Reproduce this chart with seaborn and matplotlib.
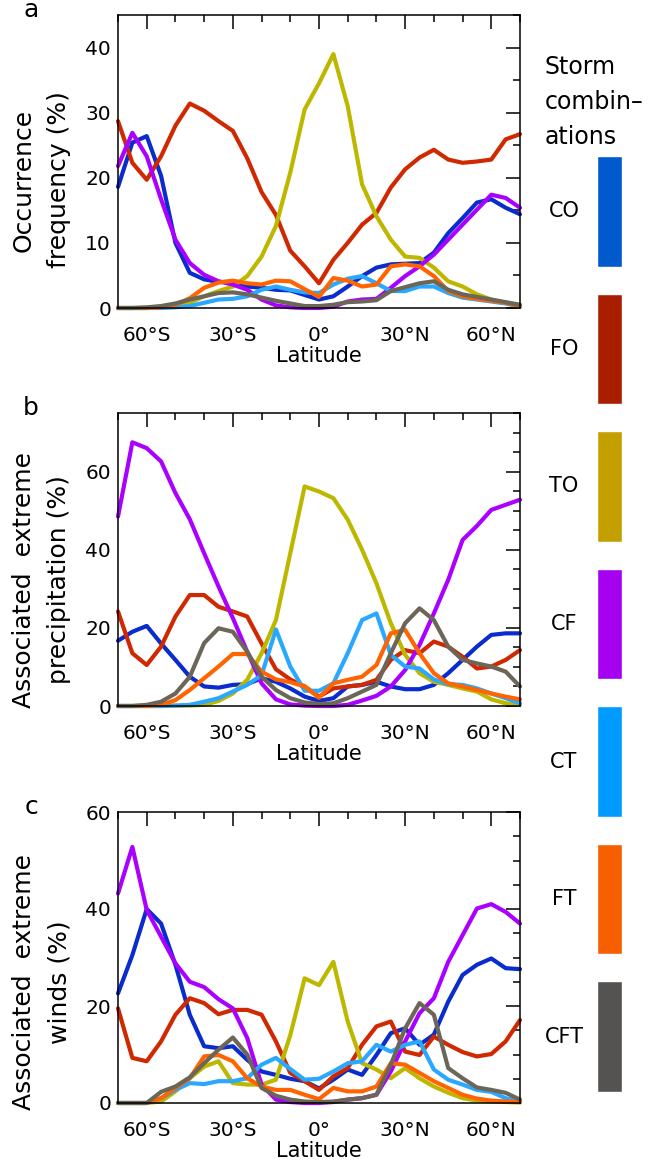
import numpy as np
import pandas as pd
import seaborn as sns
import matplotlib.pyplot as plt
import matplotlib.transforms as mtransforms
from matplotlib.ticker import MultipleLocator

# latitude grid (deg, negative = south)
lat = [-70, -65, -60, -55, -50, -45, -40, -35, -30, -25, -20, -15, -10, -5, 0,
       5, 10, 15, 20, 25, 30, 35, 40, 45, 50, 55, 60, 65, 70]

storms = ['CO', 'FO', 'TO', 'CF', 'CT', 'FT', 'CFT']
line_colors = ['#0a2ccc', '#d02800', '#bdb700', '#aa00ff', '#2aa8ff', '#ff6400', '#6c6658']
box_colors = ['#005acd', '#aa1e00', '#c3a000', '#a500f0', '#009bff', '#f55f00', '#555252']

# a: occurrence frequency (%)
freq_co = [18.6, 25.4, 26.4, 20.3, 10.0, 5.4, 4.4, 4.0, 4.0, 3.3, 3.1, 2.8, 2.7, 2.0, 1.3,
           1.8, 3.3, 4.9, 6.2, 6.7, 6.8, 6.9, 8.5, 11.5, 13.8, 16.2, 16.7, 15.4, 14.4]
freq_fo = [28.7, 22.3, 19.7, 23.3, 28.0, 31.4, 30.3, 28.7, 27.2, 23.0, 17.8, 14.3, 8.8, 6.4, 3.8,
           7.4, 10.0, 12.8, 14.6, 18.5, 21.3, 23.1, 24.3, 22.8, 22.3, 22.5, 22.8, 25.9, 26.7]
freq_to = [0.0, 0.0, 0.0, 0.1, 0.3, 0.8, 1.8, 2.6, 3.3, 4.9, 7.9, 12.6, 20.8, 30.5, 34.5,
           39.0, 31.0, 19.0, 14.1, 10.5, 7.9, 7.7, 6.2, 4.1, 3.3, 2.1, 1.3, 0.8, 0.3]
freq_cf = [21.8, 26.9, 23.3, 16.7, 10.5, 6.9, 5.1, 4.1, 3.6, 2.8, 1.3, 0.4, 0.1, 0.0, 0.0,
           0.2, 1.0, 1.3, 1.4, 3.1, 4.9, 6.4, 8.2, 10.5, 12.8, 15.1, 17.4, 16.9, 15.4]
freq_ct = [0.0, 0.0, 0.0, 0.0, 0.1, 0.3, 0.8, 1.3, 1.4, 1.8, 2.8, 3.3, 2.8, 2.4, 2.3,
           3.6, 4.5, 4.9, 3.8, 2.6, 2.6, 3.3, 3.3, 2.3, 1.6, 1.3, 1.0, 0.7, 0.2]
freq_ft = [0.0, 0.0, 0.0, 0.1, 0.5, 1.5, 3.1, 3.9, 4.2, 3.8, 3.6, 4.2, 4.1, 2.9, 1.7,
           4.6, 4.2, 3.3, 3.6, 6.4, 6.7, 6.4, 4.9, 2.6, 1.8, 1.4, 1.1, 0.8, 0.3]
freq_cft = [0.0, 0.0, 0.1, 0.3, 0.7, 1.3, 1.8, 2.3, 2.4, 2.1, 1.6, 1.1, 0.7, 0.3, 0.3,
            0.5, 0.9, 1.0, 1.2, 2.6, 3.2, 3.8, 4.1, 2.8, 2.1, 1.7, 1.3, 0.9, 0.5]

# b: associated extreme precipitation (%)
prec_co = [16.7, 19.0, 20.5, 16.0, 11.8, 7.5, 5.0, 4.7, 5.4, 5.6, 7.1, 6.2, 4.5, 2.4, 1.3,
           2.0, 5.0, 5.4, 6.2, 5.0, 4.3, 4.3, 5.4, 8.4, 11.8, 15.2, 18.2, 18.6, 18.6]
prec_fo = [24.2, 13.5, 10.5, 15.2, 22.9, 28.4, 28.4, 25.4, 24.2, 22.9, 16.0, 9.4, 6.8, 5.0, 2.4,
           4.5, 5.0, 5.4, 6.7, 11.8, 14.3, 13.5, 16.5, 15.2, 12.6, 9.6, 10.1, 11.8, 14.3]
prec_to = [0.0, 0.0, 0.0, 0.0, 0.1, 0.1, 0.3, 1.3, 3.2, 6.7, 13.5, 22.0, 39.1, 56.2, 54.9,
           53.2, 47.7, 40.0, 31.4, 21.2, 13.1, 8.4, 6.2, 5.4, 4.5, 3.7, 1.7, 0.7, 0.3]
prec_cf = [48.5, 67.5, 66.0, 62.6, 54.5, 47.8, 39.1, 30.6, 22.5, 13.9, 5.8, 1.7, 0.4, 0.1, 0.0,
           0.0, 0.3, 1.4, 2.6, 5.0, 9.2, 15.6, 23.7, 32.3, 42.5, 46.1, 50.2, 51.5, 52.8]
prec_ct = [0.0, 0.0, 0.0, 0.0, 0.1, 0.3, 1.1, 2.0, 3.7, 5.4, 7.9, 19.6, 10.1, 3.9, 3.9,
           5.8, 13.5, 22.0, 23.7, 13.1, 10.1, 9.6, 6.8, 5.6, 5.4, 4.5, 3.2, 2.0, 0.7]
prec_ft = [0.0, 0.0, 0.0, 0.3, 1.5, 4.1, 7.1, 10.1, 13.3, 13.3, 8.8, 6.8, 6.1, 5.0, 2.1,
           5.8, 6.7, 7.5, 10.5, 18.6, 19.5, 13.5, 8.4, 5.8, 5.0, 4.1, 3.2, 2.4, 1.7]
prec_cft = [0.0, 0.0, 0.3, 1.1, 3.2, 7.5, 16.1, 19.9, 19.0, 13.9, 7.5, 4.1, 2.0, 0.9, 0.5,
            0.7, 2.0, 3.7, 5.4, 13.5, 21.2, 25.0, 22.0, 15.2, 11.8, 10.9, 10.1, 8.8, 5.0]

# c: associated extreme winds (%)
wind_co = [22.6, 30.5, 40.0, 37.0, 28.5, 18.2, 11.7, 11.3, 11.7, 8.9, 6.5, 5.8, 5.0, 4.5, 3.0,
           4.8, 6.9, 5.8, 9.9, 14.4, 15.4, 12.0, 14.1, 20.9, 26.4, 28.5, 29.8, 27.8, 27.6]
wind_fo = [19.5, 9.3, 8.6, 12.7, 18.2, 21.6, 20.6, 18.3, 19.2, 19.2, 18.2, 12.7, 6.2, 4.5, 2.7,
           5.5, 7.2, 12.0, 15.8, 16.8, 10.6, 9.9, 13.7, 12.0, 10.5, 9.6, 10.1, 12.7, 17.1]
wind_to = [0.0, 0.0, 0.0, 0.3, 2.4, 5.1, 7.5, 8.6, 4.1, 3.8, 3.8, 4.8, 14.0, 25.7, 24.3,
           29.1, 16.8, 8.2, 6.9, 5.1, 7.2, 5.1, 3.4, 2.1, 1.0, 0.5, 0.3, 0.2, 0.1]
wind_cf = [43.2, 52.8, 39.8, 34.3, 28.8, 25.0, 23.9, 21.4, 19.5, 13.4, 3.8, 0.7, 0.2, 0.0, 0.0,
           0.2, 0.7, 1.0, 1.7, 6.5, 12.7, 18.5, 21.6, 29.1, 34.6, 40.1, 41.0, 39.4, 37.0]
wind_ct = [0.0, 0.0, 0.0, 1.0, 2.7, 4.1, 3.9, 4.5, 4.5, 5.1, 7.9, 9.3, 7.0, 4.8, 5.0,
           6.5, 8.2, 8.6, 12.0, 10.6, 12.0, 12.7, 6.9, 4.8, 3.8, 2.7, 2.3, 1.0, 0.2]
wind_ft = [0.0, 0.0, 0.0, 1.0, 3.1, 5.1, 9.6, 9.9, 8.6, 5.1, 3.4, 2.7, 2.7, 1.7, 0.8,
           3.1, 2.4, 2.4, 3.4, 8.2, 7.9, 6.2, 4.5, 3.1, 1.7, 0.9, 0.5, 0.3, 0.2]
wind_cft = [0.0, 0.0, 0.0, 2.3, 3.4, 5.3, 8.2, 11.0, 13.5, 10.0, 3.1, 1.5, 0.7, 0.3, 0.2,
            0.3, 0.7, 1.0, 1.7, 7.9, 15.4, 20.6, 18.2, 7.2, 5.1, 3.2, 2.7, 2.1, 0.7]

xtick_pos = [-60, -30, 0, 30, 60]
xtick_labels = ['60°S', '30°S', '0°', '30°N', '60°N']


def long_frame(series):
    rows = []
    for name, vals in zip(storms, series):
        for x, v in zip(lat, vals):
            rows.append((name, x, v))
    return pd.DataFrame(rows, columns=['storm', 'lat', 'value'])


def draw_panel(ax, series, ymax, ymajor):
    df = long_frame(series)
    sns.lineplot(data=df, x='lat', y='value', hue='storm', hue_order=storms,
                 palette=dict(zip(storms, line_colors)), lw=3.0, legend=False,
                 ax=ax, clip_on=False, solid_joinstyle='round', solid_capstyle='round')
    ax.set_xlim(-70, 70)
    ax.set_ylim(0, ymax)
    ax.set_xticks(xtick_pos)
    ax.set_xticklabels(xtick_labels)
    ax.xaxis.set_minor_locator(MultipleLocator(10))
    ax.yaxis.set_major_locator(MultipleLocator(ymajor))
    ax.yaxis.set_minor_locator(MultipleLocator(5))
    ax.tick_params(which='both', direction='in', top=True, right=True, width=1.1,
                   labelsize=14.5, color='black', labelcolor='black')
    ax.tick_params(which='major', length=10)
    ax.tick_params(which='minor', length=5)
    ax.tick_params(axis='x', pad=13)
    ax.tick_params(axis='y', pad=5)
    ax.set_xlabel('Latitude', fontsize=15, labelpad=1, color='black')
    ax.set_ylabel('')
    for s in ax.spines.values():
        s.set_linewidth(1.1)
        s.set_color('black')


sns.set_theme(style='white')
plt.rcParams['font.family'] = ['DejaVu Sans']
plt.rcParams['text.color'] = 'black'

fig = plt.figure(figsize=(6.55, 11.68), dpi=100)
W, H = 655.0, 1168.0

panels = [
    ([freq_co, freq_fo, freq_to, freq_cf, freq_ct, freq_ft, freq_cft], 45, 10,
     (15, 308), 'a', ('Occurrence', 'frequency (%)'), 180),
    ([prec_co, prec_fo, prec_to, prec_cf, prec_ct, prec_ft, prec_cft], 75, 20,
     (413, 706), 'b', ('Associated  extreme', 'precipitation (%)'), 580),
    ([wind_co, wind_fo, wind_to, wind_cf, wind_ct, wind_ft, wind_cft], 60, 20,
     (812, 1103), 'c', ('Associated  extreme', 'winds (%)'), 982),
]

for series, ymax, ymajor, (top, bot), letter, ylab, ylab_y in panels:
    ax = fig.add_axes([118 / W, 1 - bot / H, 402 / W, (bot - top) / H])
    draw_panel(ax, series, ymax, ymajor)
    fig.text(31 / W, 1 - (top - 5) / H, letter, fontsize=18, ha='center', va='center')
    fig.text(24 / W, 1 - ylab_y / H, ylab[0], fontsize=18, rotation=90, ha='center', va='center')
    fig.text(59 / W, 1 - ylab_y / H, ylab[1], fontsize=18, rotation=90, ha='center', va='center')

# colour key on the right
lax = fig.add_axes([597 / W, 1 - 1092 / H, 25 / W, 936 / H])
lax.barh(range(len(storms)), [1] * len(storms), height=0.807, color=box_colors, left=0)
lax.set_ylim(6.4035, -0.4035)
lax.set_xlim(0, 1)
lax.axis('off')
trans = mtransforms.blended_transform_factory(lax.transAxes, lax.transData)
for i, name in enumerate(storms):
    lax.text(-1.32, i, name, transform=trans, fontsize=15, ha='center', va='center')

for i, line in enumerate(['Storm', 'combin–', 'ations']):
    fig.text(545 / W, 1 - (67 + 35 * i) / H, line, fontsize=17, ha='left', va='center')

fig.savefig('out.png', dpi=100, facecolor='white')
